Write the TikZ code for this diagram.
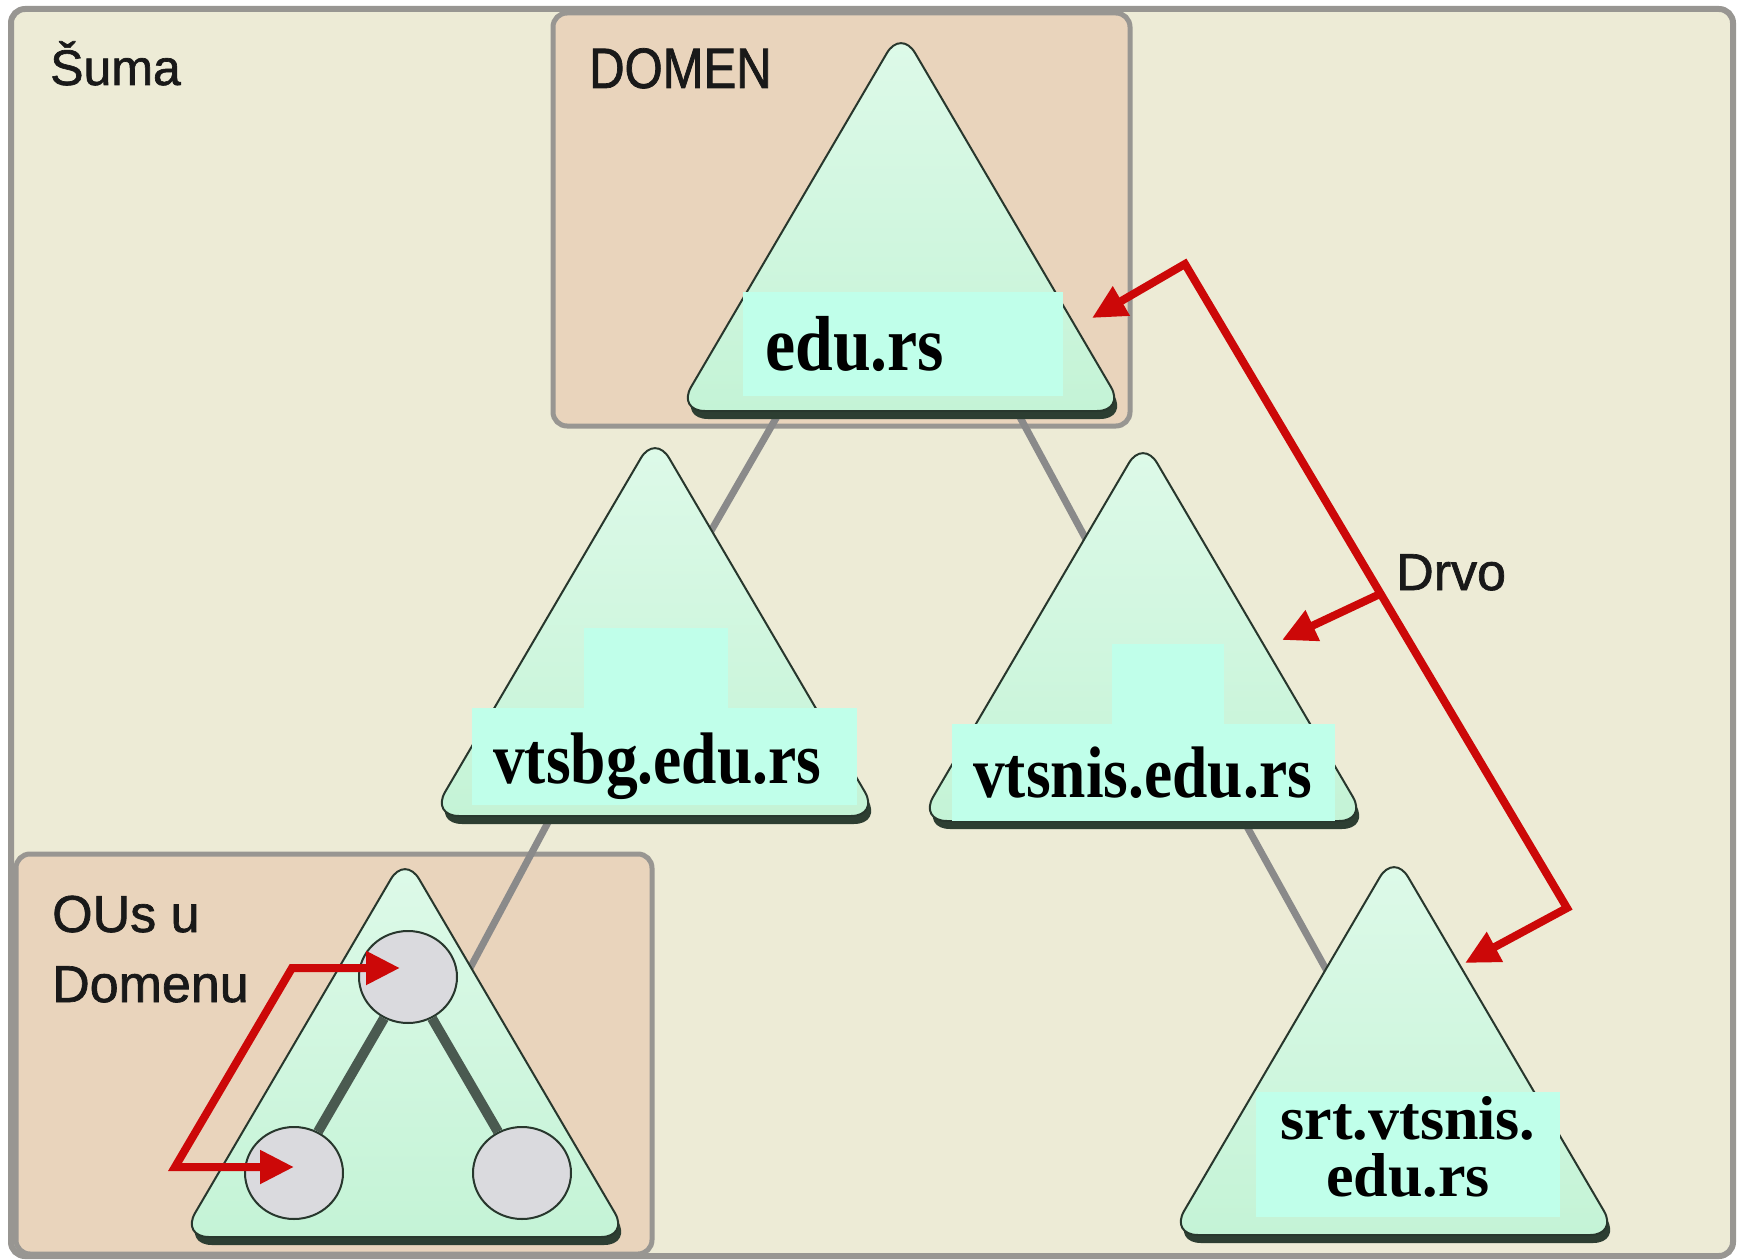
\documentclass[tikz,border=0pt]{standalone}
\usepackage{fontspec}
\setmainfont{Liberation Serif}
\newfontfamily\sansnorm[FakeBold=1.3]{Liberation Sans}
\newfontfamily\sansnarrow[FakeStretch=0.86,FakeBold=1.3]{Liberation Sans}
\newfontfamily\serifnarrow[FakeStretch=0.87]{Liberation Serif}
\usetikzlibrary{arrows.meta,shapes.geometric,calc}

\definecolor{forestbg}{RGB}{237,235,214}
\definecolor{domainbg}{RGB}{233,212,188}
\definecolor{framegray}{RGB}{152,150,146}
\definecolor{trifill}{RGB}{196,243,214}
\definecolor{tritop}{RGB}{222,250,233}
\definecolor{triedge}{RGB}{40,55,45}
\definecolor{trishadow}{RGB}{45,62,50}
\definecolor{lblbg}{RGB}{192,255,234}
\definecolor{linkgray}{RGB}{138,138,138}
\definecolor{arrowred}{RGB}{204,8,8}
\definecolor{ougray}{RGB}{218,218,222}
\definecolor{oulink}{RGB}{74,90,80}

% triangle for a domain: name, centre x, base y
\newcommand{\domtri}[3]{%
  \coordinate (#1-top) at (#2,#3-382);
  \coordinate (#1-left) at (#2-224,#3);
  \coordinate (#1-right) at (#2+224,#3);
  \fill[trishadow, rounded corners=28pt] ([shift={(3,8)}]#1-top) -- ([shift={(3,8)}]#1-right) -- ([shift={(3,8)}]#1-left) -- cycle;
  \path[tri] (#1-top) -- (#1-right) -- (#1-left) -- cycle;
}

\begin{document}
\begin{tikzpicture}[
    x=1pt, y=-1pt,
    >={Triangle[length=34pt,width=32pt]},
    box/.style={
        draw=framegray,
        line width=5pt,
        rounded corners=14pt,
      },
    tri/.style={
        top color=tritop,
        bottom color=trifill,
        draw=triedge,
        line width=2pt,
        rounded corners=28pt,
      },
    link/.style={draw=linkgray, line width=7pt},
    redarrow/.style={draw=arrowred, line width=8pt, line join=miter},
    boxtext/.style={anchor=base west, inner sep=0pt, text=black!90},
    dname/.style={anchor=base west, inner sep=0pt,
        font=\serifnarrow\bfseries\fontsize{73}{80}\selectfont},
    ou/.style={
        ellipse,
        draw=triedge,
        line width=2pt,
        fill=ougray,
        minimum width=98pt,
        minimum height=92pt,
        inner sep=0pt,
      },
  ]
  \useasboundingbox (0,0) rectangle (1740,1260);

  % forest, domain and OU frames
  \filldraw[box, fill=forestbg, line width=6pt] (11,9) rectangle (1733,1256);
  \filldraw[box, fill=domainbg] (553,13) rectangle (1130,426);
  \filldraw[box, fill=domainbg] (16,854) rectangle (652,1254);

  \node[boxtext, font=\sansnorm\fontsize{50}{60}\selectfont] (forest) at (50,85) {Šuma};
  \node[boxtext, font=\sansnarrow\fontsize{57}{66}\selectfont] (domain) at (589,88) {DOMEN};
  \node[boxtext, font=\sansnorm\fontsize{52}{66}\selectfont] (ous1) at (52,932) {OUs u};
  \node[boxtext, font=\sansnorm\fontsize{52}{66}\selectfont] (ous2) at (52,1002) {Domenu};
  \node[boxtext, font=\sansnorm\fontsize{52}{66}\selectfont] (tree) at (1396,590) {Drvo};

  % links between domains (hidden ends under the triangles)
  \coordinate (l1a) at (790,394);
  \coordinate (l1b) at (700,550);
  \coordinate (l2a) at (1008,395);
  \coordinate (l2b) at (1108,580);
  \coordinate (l3a) at (560,800);
  \coordinate (l3b) at (453,1000);
  \coordinate (l4a) at (1235,805);
  \coordinate (l4b) at (1343,1000);
  \draw[link] (l1a) -- (l1b);
  \draw[link] (l2a) -- (l2b);
  \draw[link] (l3a) -- (l3b);
  \draw[link] (l4a) -- (l4b);

  \domtri{root}{901}{411}
  \domtri{bg}{655}{816}
  \domtri{nis}{1143}{821}
  \domtri{srt}{1394}{1235}
  \domtri{oun}{405}{1237}

  % name plates
  \fill[lblbg] (743,292) rectangle (1063,396);
  \fill[lblbg] (584,628) rectangle (728,708);
  \fill[lblbg] (472,708) rectangle (857,805);
  \fill[lblbg] (1112,644) rectangle (1224,724);
  \fill[lblbg] (952,724) rectangle (1335,821);
  \fill[lblbg] (1256,1092) rectangle (1560,1217);

  \node[dname, font=\serifnarrow\bfseries\fontsize{78}{84}\selectfont] (root) at (765,370) {edu.rs};
  \node[dname] (bg) at (493,783) {vtsbg.edu.rs};
  \node[dname] (nis) at (973,797) {vtsnis.edu.rs};
  \node[anchor=north, inner sep=0pt, align=center,
    font=\bfseries\fontsize{62}{57}\selectfont] (srt) at (1408,1096) {srt.vtsnis.\\edu.rs};

  % organizational units
  \node[ou] (ou1) at (408,977) {};
  \node[ou] (ou2) at (294,1173) {};
  \node[ou] (ou3) at (522,1173) {};
  \draw[draw=oulink, line width=10pt] (ou1) -- (ou2);
  \draw[draw=oulink, line width=10pt] (ou1) -- (ou3);

  % red arrows
  \coordinate (ou1-in) at (400,968);
  \coordinate (ouk1) at (292,968);
  \coordinate (ouk2) at (175,1167);
  \coordinate (ou2-in) at (294,1167);
  \draw[redarrow, <->] (ou1-in) -- (ouk1) -- (ouk2) -- (ou2-in);

  \coordinate (root-in) at (1092,318);
  \coordinate (tree-k1) at (1185,264);
  \coordinate (tree-k2) at (1567,908);
  \coordinate (srt-in) at (1465,963);
  \coordinate (nis-in) at (1282,640);
  \coordinate (tree-br) at ($(tree-k1)!0.512!(tree-k2)$);
  \draw[redarrow, <->] (root-in) -- (tree-k1) -- (tree-k2) -- (srt-in);
  \draw[redarrow, ->] (tree-br) -- (nis-in);
\end{tikzpicture}
\end{document}
